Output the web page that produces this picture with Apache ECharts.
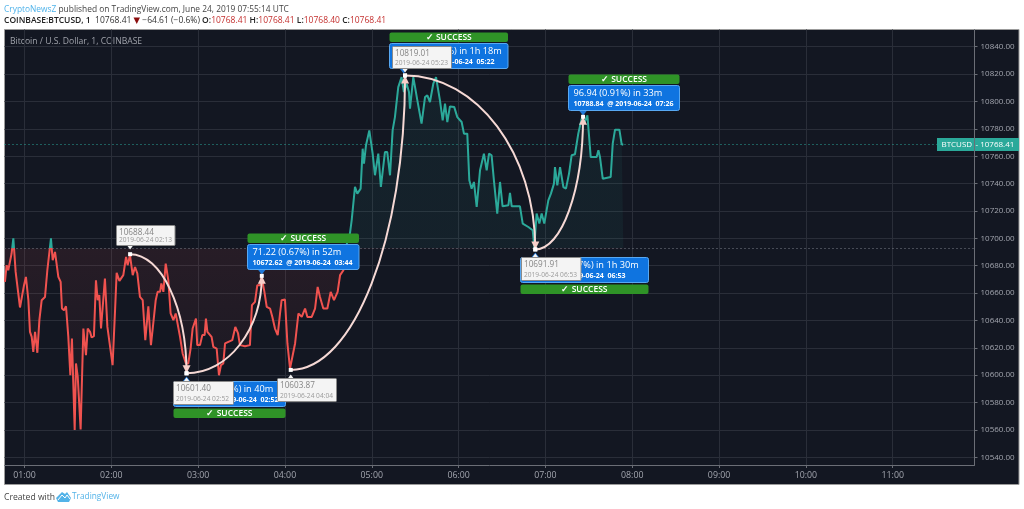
<!DOCTYPE html>
<html lang="en">
<head>
  <meta charset="UTF-8">
  <title>BTCUSD</title>
  <style>
    html, body { margin:0; padding:0; background:#fff; }
    #chart { width:1024px; height:509px; }
  </style>
</head>
<body>
  <div id="chart"></div>
  <script src="https://cdn.jsdelivr.net/npm/echarts@6/dist/echarts.min.js"></script>
  <script>
    // minutes after 00:00 UTC
    var minutes = [46.5,47.7,48.8,51.1,52.3,53.9,55.1,56.9,58,59.7,61,62.7,63.8,65,66.1,67.3,68.9,70.3,71.9,74.2,75.8,77,78.3,79.5,81.1,83.4,85,85.9,87.3,88.7,90.3,91.7,92.8,94.7,95.6,96.8,98.8,100.7,102.5,103.7,105.3,106.4,108,109.4,110.6,111.7,112.9,115.6,117.3,118.6,120.9,122.6,123.7,125.6,128.3,130.2,131.3,132.9,134.8,136.4,138,139.8,141.7,143.5,145.6,147.4,149,150.7,152,153.7,154.6,156,157.6,159.4,161,162.9,164.5,167.5,169.3,171.6,173.2,174.8,176.2,178.5,179.4,181.3,182.9,184.5,185.4,186.4,189.3,190.5,192.8,194.4,195.8,197.4,198.6,200.9,203.6,205.7,207.6,208.9,212.4,215.8,217.2,219.3,220.9,222.8,223.9,225.8,227.4,229.7,231.3,233.1,235,236.6,237.7,240,241.7,243.5,247,249.3,251.6,253.9,255.5,258.5,260.8,262.6,264.2,266.5,269.3,271.6,273.9,276.4,278.1,280.4,283.1,284.9,286.1,288.4,290,292.3,293.7,294.6,296,298.3,300.6,302.2,304.5,306.3,309.1,310.7,312.6,314.4,316,318.3,320.6,322.2,324.1,325.7,326.4,328.7,331.5,334.4,336.8,338.4,340.2,342.5,344.4,347.1,349,350.6,352.2,354,357,359.1,362.1,363.7,366,367.4,369,370.6,372.5,374.8,377.5,379.4,381,382.8,384.4,386.7,388.6,390.4,394.4,395.5,396.7,402.4,404.3,408.2,411.2,412.3,413.9,415.8,417.4,419.2,422,423.8,425.9,426.6,428.2,430.1,432.4,434.2,436.3,438.1,440.4,442.7,445,446.7,449,451.3,455.4,456.6,457.7,459.6,465.1,466.5,468.1,471.1,472.7,473.8]
    var prices = [10668.2,10680.4,10676.7,10688.9,10700,10675.5,10674.3,10649.5,10649.5,10665.8,10671.8,10654.8,10631.7,10628,10617.1,10631.7,10616.4,10640.2,10654.8,10657.2,10676.7,10676.7,10700,10684,10690.1,10671.8,10668.2,10648.7,10647.5,10650.4,10628,10600,10626.8,10560,10608.6,10598.9,10560.4,10634.1,10614.7,10634.1,10631.7,10627.6,10628.5,10669.4,10654.8,10658.5,10634.1,10670.6,10635.3,10635.8,10607.4,10647.5,10674.8,10668.9,10673.1,10686.4,10680.4,10687.7,10673.1,10679.1,10674.3,10657.2,10654.8,10625.6,10650.4,10622,10637.8,10654.8,10660.9,10660.9,10667,10660.9,10681.6,10669.4,10645.1,10640.2,10645.1,10628,10615.9,10608.6,10608.6,10619.5,10634.1,10641.4,10622,10622,10629.3,10629.3,10641.4,10631.7,10628,10620.7,10619.5,10600,10607.4,10608.6,10623.2,10624.4,10625.6,10635.3,10630.5,10622,10621.2,10622,10651.2,10653.6,10665.8,10665.8,10671.8,10660.9,10649.9,10648.7,10642.6,10634.1,10629.3,10645.1,10654.8,10655.3,10623.2,10604.9,10623.2,10645.1,10642.6,10648.7,10642.6,10642.6,10648.7,10664.5,10657.2,10648.7,10648.7,10660.9,10654.8,10660.9,10673.1,10676.7,10698.6,10703.5,10713.2,10737.6,10732.7,10736.3,10765.5,10754.6,10768,10778.9,10761.9,10746.1,10761.9,10737.6,10763.1,10763.1,10746.1,10778.9,10788.6,10810.5,10817.8,10806.9,10813,10806.9,10794.7,10817.8,10800.8,10783.8,10803.2,10804.5,10799.6,10813,10817.8,10800.8,10786.2,10798.4,10785,10796.4,10795.9,10788.6,10785,10776.5,10776.5,10742.4,10736.3,10741.2,10723,10749.7,10761.9,10749.7,10761.9,10760.7,10742.4,10718.1,10741.2,10723.4,10724.2,10733.2,10723.4,10723.4,10710.8,10708.3,10705.9,10693.8,10718.1,10710.8,10718.1,10710.8,10727.8,10732.7,10740,10752.1,10738.8,10752.1,10737.5,10736.3,10747.3,10760.7,10761.4,10776.5,10787.4,10783.8,10789.9,10759.4,10759.4,10764.3,10759.4,10743.6,10744.8,10769.2,10779.4,10779.4,10768.7,10768.41]
    var baselinePrice = 10692.6
    var lastPrice = 10768.41

    var hourTicks = [60,120,180,240,300,360,420,480,540,600,660]
    var priceTicks = [10540,10560,10580,10600,10620,10640,10660,10680,10700,10720,10740,10760,10780,10800,10820,10840]

    // the five measured swings
    var swingStartMinutes = [133,172,244,323,413]
    var swingStartPrices = [10688.44,10601.40,10603.87,10819.01,10691.91]
    var swingEndMinutes = [172,224,323,413,446]
    var swingEndPrices = [10601.40,10672.62,10819.01,10691.91,10788.84]

    var resultMinutes = [172,224,322,413,446]
    var resultPrices = [10601.40,10672.62,10819.01,10691.91,10788.84]
    var resultHeads = ['-87.04 (-0.81%) in 40m','71.22 (0.67%) in 52m','215.14 (2.03%) in 1h 18m','-127.10 (-1.17%) in 1h 30m','96.94 (0.91%) in 33m']
    var resultDetails = ['10601.40  @ 2019-06-24  02:52','10672.62  @ 2019-06-24  03:44','10819.01  @ 2019-06-24  05:22','10691.91  @ 2019-06-24  06:53','10788.84  @ 2019-06-24  07:26']

    var pivotMinutes = [133,172,244,323,413]
    var pivotPrices = [10688.44,10601.40,10603.87,10819.01,10691.91]
    var pivotPriceLabels = ['10688.44','10601.40','10603.87','10819.01','10691.91']
    var pivotTimes = ['2019-06-24 02:13','2019-06-24 02:52','2019-06-24 04:04','2019-06-24 05:23','2019-06-24 06:53']

    // layout of the annotation boxes, offsets from their anchor in px
    var resultBoxes = [
      { dx:-13.6, dy:7.8, w:112, below:true },
      { dx:-14.5, dy:-31.6, w:111.5, below:false },
      { dx:-15, dy:-32, w:118.5, below:false },
      { dx:-15, dy:7.5, w:128, below:true },
      { dx:-15, dy:-32, w:111, below:false }
    ]
    var pivotBoxes = [
      { dx:-14, dy:-29, w:58.5, h:20 },
      { dx:-14, dy:7.5, w:60, h:23 },
      { dx:-14, dy:8.5, w:59, h:23 },
      { dx:-13, dy:-29, w:59, h:22 },
      { dx:-14.5, dy:8, w:59.5, h:23 }
    ]

    var FONT = '"Open Sans", sans-serif'
    var RED = '#f0524f', TEAL = '#2ba99a'
    var GRID = '#2a2e39'
    var BG = '#131722'
    var ARC = '#f6d9d5'
    var KAPPA = 0.5523 // cubic approximation of a quarter ellipse

    function hhmm(m) {
      var h = Math.floor(m / 60)
      return (h < 10 ? '0' : '') + h + ':00'
    }

    function renderSwing(params, api) {
      var a = api.coord([api.value(0), api.value(1)])
      var b = api.coord([api.value(2), api.value(3)])
      var s = b[1] < a[1] ? 1 : -1
      return {
        type:'group',
        children:[
          { type:'bezierCurve',
            shape:{ x1:a[0], y1:a[1], x2:b[0], y2:b[1],
              cpx1:a[0] + KAPPA * (b[0] - a[0]), cpy1:a[1],
              cpx2:b[0], cpy2:b[1] + KAPPA * (a[1] - b[1]) },
            style:{ fill:null, stroke:ARC, lineWidth:2 } },
          { type:'polygon',
            shape:{ points:[[b[0],b[1]], [b[0]-4,b[1]+s*8], [b[0]+4,b[1]+s*8]] },
            style:{ fill:'#f7cfc9' } },
          { type:'rect', shape:{ x:a[0]-2, y:a[1]-2, width:4, height:4 }, style:{ fill:'#fff' } },
          { type:'rect', shape:{ x:b[0]-2, y:b[1]-2, width:4, height:4 }, style:{ fill:'#fff' } }
        ]
      }
    }

    function renderResult(params, api) {
      var i = params.dataIndex
      var p = api.coord([api.value(0), api.value(1)])
      var box = resultBoxes[i]
      var x = Math.round(p[0] + box.dx) + 0.5, y = Math.round(p[1] + box.dy) + 0.5
      var greenY = box.below ? y + 27 : y - 11
      var tipY = box.below ? y - 5 : y + 30
      var baseY = box.below ? y : y + 25
      return {
        type:'group',
        children:[
          { type:'rect', shape:{ x:x, y:greenY, width:box.w, height:9.5, r:2 }, style:{ fill:'#2f9327' } },
          { type:'text', style:{ text:'✓ SUCCESS', x:x + box.w / 2, y:greenY + 5, fill:'#fff', align:'center', verticalAlign:'middle', font:'600 8.5px ' + FONT } },
          { type:'polygon', shape:{ points:[[p[0]-4,baseY],[p[0]+4,baseY],[p[0],tipY]] }, style:{ fill:'#1e78d8' } },
          { type:'rect', shape:{ x:x, y:y, width:box.w, height:25, r:2 }, style:{ fill:'#0f74e0', stroke:'#58a8f2', lineWidth:1 } },
          { type:'text', style:{ text:resultHeads[i], x:x + 5, y:y + 8, fill:'#fff', verticalAlign:'middle', font:'9.2px ' + FONT } },
          { type:'text', style:{ text:resultDetails[i], x:x + 5, y:y + 18.5, fill:'#fff', verticalAlign:'middle', font:'bold 7px ' + FONT } }
        ]
      }
    }

    function renderPivot(params, api) {
      var i = params.dataIndex
      var p = api.coord([api.value(0), api.value(1)])
      var box = pivotBoxes[i]
      var x = Math.round(p[0] + box.dx) + 0.5, y = Math.round(p[1] + box.dy) + 0.5
      var above = box.dy < 0
      var baseY = above ? y + box.h : y
      return {
        type:'group',
        children:[
          { type:'polygon', shape:{ points:[[p[0]-3,baseY],[p[0]+3,baseY],[p[0],baseY + (above ? 4 : -4)]] }, style:{ fill:'#f4f4f4' } },
          { type:'rect', shape:{ x:x, y:y, width:box.w, height:box.h, r:1 }, style:{ fill:'#f4f4f4', stroke:'#8a8a8a', lineWidth:1 } },
          { type:'text', style:{ text:pivotPriceLabels[i], x:x + 2.5, y:y + 7, fill:'#858585', verticalAlign:'middle', font:'8.2px ' + FONT } },
          { type:'text', style:{ text:pivotTimes[i], x:x + 2.5, y:y + box.h - 5.5, fill:'#9a9a9a', verticalAlign:'middle', font:'6.6px ' + FONT } }
        ]
      }
    }

    function renderLastTag(params, api) {
      var p = api.coord([api.value(0), api.value(1)])
      var y = Math.round(p[1])
      return {
        type:'group',
        children:[
          { type:'rect', shape:{ x:937, y:y - 7, width:82, height:13 }, style:{ fill:TEAL } },
          { type:'rect', shape:{ x:974, y:y - 7, width:1, height:13 }, style:{ fill:'#6b6e76' } },
          { type:'text', style:{ text:'BTCUSD', x:941.5, y:y, fill:'#fff', verticalAlign:'middle', font:'8px ' + FONT } },
          { type:'text', style:{ text:'- 10768.41', x:975.5, y:y, fill:'#fff', verticalAlign:'middle', font:'8px ' + FONT } }
        ]
      }
    }

    // area fill: teal above the baseline, red below it, meeting where the baseline falls in the area's box
    var hi = Math.max.apply(null, prices), lo = Math.min.apply(null, prices)
    var split = (hi - baselinePrice) / (hi - lo)

    var chart = echarts.init(document.getElementById('chart'), null, { renderer:'canvas' })
    chart.setOption({
      animation:false,
      backgroundColor:'#fff',
      textStyle:{ fontFamily:FONT },
      graphic:[
        { type:'rect', z:-1, shape:{ x:4.5, y:29.5, width:1014.5, height:455 }, style:{ fill:BG, stroke:'#9b9b9b', lineWidth:1 } },
        { type:'text', left:4, top:5.5, style:{ text:'{a|CryptoNewsZ} published on TradingView.com, June 24, 2019 07:55:14 UTC',
            fill:'#444', font:'8.4px ' + FONT, rich:{ a:{ fill:'#4fb3ea', font:'8.4px ' + FONT } } } },
        { type:'text', left:4, top:16.5, style:{ text:'{b|COINBASE:BTCUSD, 1}  10768.41 {d|▼} −64.61 (−0.6%) {b|O:}{r|10768.41} {b|H:}{r|10768.41} {b|L:}{r|10768.40} {b|C:}{r|10768.41}',
            fill:'#333', font:'8.5px ' + FONT, rich:{
              b:{ fill:'#222', font:'600 8.5px ' + FONT },
              d:{ fill:'#8b0d0d', font:'8.5px "DejaVu Sans"' },
              r:{ fill:'#c4302f', font:'8.5px ' + FONT }
            } } },
        { type:'text', left:10, top:37, style:{ text:'Bitcoin / U.S. Dollar, 1, COINBASE', fill:'#a0a3ab', font:'8.6px ' + FONT } },
        { type:'text', left:4, top:493, style:{ text:'Created with', fill:'#444', font:'8.6px ' + FONT } },
        { type:'polygon', shape:{ points:[[56,498],[62,492],[65,494],[67,492],[71,498],[69,502],[58,502]] }, style:{ fill:'#53b3e8' } },
        { type:'polyline', shape:{ points:[[58,500],[62,495],[65,498],[67,495],[70,499]] }, style:{ fill:null, stroke:'#fff', lineWidth:1 } },
        { type:'text', left:72, top:493, style:{ text:'TradingView', fill:'#53b3e8', font:'8.3px ' + FONT } }
      ],
      grid:{ left:4.5, top:29.5, right:49.5, bottom:44, containLabel:false },
      visualMap:{
        show:false,
        type:'piecewise',
        seriesIndex:0,
        dimension:1,
        pieces:[
          { gt:10000, lte:baselinePrice, color:RED },
          { gt:baselinePrice, lte:11000, color:TEAL }
        ]
      },
      xAxis:{
        type:'value',
        min:46.2,
        max:716.5,
        axisLine:{ lineStyle:{ color:'#6b6e76' } },
        axisTick:{ length:3, lineStyle:{ color:'#6b6e76' }, customValues:hourTicks },
        axisLabel:{ color:'#a3a6af', fontSize:8.8, margin:6, customValues:hourTicks, formatter:hhmm, showMinLabel:true, showMaxLabel:true },
        splitLine:{ show:true, lineStyle:{ color:GRID } }
      },
      yAxis:{
        type:'value',
        position:'right',
        min:10534.4,
        max:10852.6,
        axisLine:{ show:true, lineStyle:{ color:'#6b6e76' } },
        axisTick:{ show:true, length:3, lineStyle:{ color:'#6b6e76' }, customValues:priceTicks },
        axisLabel:{ color:'#a3a6af', fontSize:8, margin:6, customValues:priceTicks, formatter:function (v) { return v.toFixed(2) } },
        splitLine:{ show:true, lineStyle:{ color:GRID } }
      },
      series:[
        {
          type:'line',
          z:3,
          showSymbol:false,
          lineStyle:{ width:2 },
          areaStyle:{
            origin:baselinePrice,
            opacity:1,
            color:{
              type:'linear', x:0, y:0, x2:0, y2:1,
              colorStops:[
                { offset:0, color:'rgba(43,169,154,0.07)' },
                { offset:split, color:'rgba(43,169,154,0.07)' },
                { offset:split, color:'rgba(240,82,79,0.09)' },
                { offset:1, color:'rgba(240,82,79,0.02)' }
              ]
            }
          },
          data:minutes.map(function (m, i) { return [m, prices[i]] }),
          markLine:{
            silent:true,
            symbol:'none',
            label:{ show:false },
            data:[
              { yAxis:baselinePrice, lineStyle:{ color:'#7d808a', type:[1,3], width:1 } },
              { yAxis:lastPrice, lineStyle:{ color:TEAL, type:[1,3], width:1 } }
            ]
          }
        },
        {
          type:'custom',
          z:5,
          renderItem:renderResult,
          encode:{ x:0, y:1 },
          data:resultMinutes.map(function (m, i) { return [m, resultPrices[i]] })
        },
        {
          type:'custom',
          z:6,
          renderItem:renderSwing,
          encode:{ x:[0,2], y:[1,3] },
          data:swingStartMinutes.map(function (m, i) {
            return [m, swingStartPrices[i], swingEndMinutes[i], swingEndPrices[i]]
          })
        },
        {
          type:'custom',
          z:7,
          renderItem:renderPivot,
          encode:{ x:0, y:1 },
          data:pivotMinutes.map(function (m, i) { return [m, pivotPrices[i]] })
        },
        {
          type:'custom',
          z:7,
          clip:false,
          renderItem:renderLastTag,
          encode:{ x:0, y:1 },
          data:[[minutes[minutes.length - 1], lastPrice]]
        }
      ]
    })
  </script>
</body>
</html>
